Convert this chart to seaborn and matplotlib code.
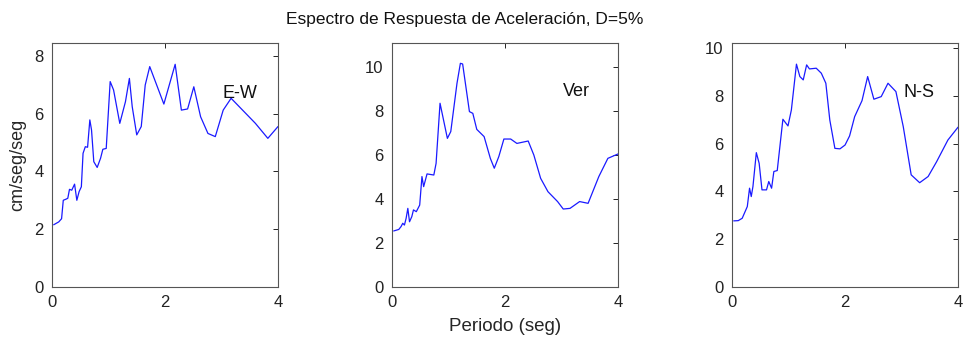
import pandas as pd
import seaborn as sns
import matplotlib.pyplot as plt

# Periodo (seg) y aceleracion espectral (cm/seg/seg) por componente
t_ew = [0.03, 0.12, 0.17, 0.20, 0.25, 0.28, 0.31, 0.35, 0.40, 0.44, 0.48, 0.52, 0.55, 0.59,
        0.63, 0.67, 0.70, 0.74, 0.80, 0.86, 0.90, 0.96, 1.03, 1.09, 1.20, 1.30, 1.37, 1.42,
        1.50, 1.58, 1.65, 1.73, 1.98, 2.18, 2.29, 2.40, 2.51, 2.63, 2.76, 2.89, 3.03, 3.17,
        3.60, 3.82, 4.00]
v_ew = [2.15, 2.25, 2.36, 3.00, 3.04, 3.07, 3.38, 3.35, 3.56, 3.00, 3.30, 3.47, 4.63, 4.86,
        4.84, 5.79, 5.44, 4.34, 4.14, 4.46, 4.77, 4.80, 7.12, 6.83, 5.67, 6.42, 7.23, 6.25,
        5.27, 5.56, 7.00, 7.64, 6.34, 7.72, 6.13, 6.17, 6.94, 5.90, 5.32, 5.21, 6.13, 6.54,
        5.67, 5.15, 5.56]

t_ver = [0.03, 0.12, 0.16, 0.19, 0.22, 0.25, 0.28, 0.31, 0.35, 0.38, 0.43, 0.49, 0.53, 0.56,
         0.62, 0.74, 0.78, 0.85, 0.98, 1.04, 1.15, 1.21, 1.25, 1.37, 1.43, 1.50, 1.63, 1.74,
         1.81, 1.89, 1.98, 2.10, 2.21, 2.41, 2.51, 2.63, 2.76, 2.93, 3.03, 3.15, 3.32, 3.47,
         3.66, 3.82, 4.00]
v_ver = [2.54, 2.61, 2.74, 2.89, 2.81, 3.12, 3.57, 2.96, 3.19, 3.50, 3.42, 3.72, 5.02, 4.56,
         5.14, 5.09, 5.62, 8.36, 6.76, 7.07, 9.27, 10.18, 10.15, 7.98, 7.90, 7.17, 6.84, 5.85,
         5.40, 5.93, 6.73, 6.73, 6.53, 6.64, 6.00, 4.94, 4.33, 3.88, 3.54, 3.57, 3.88, 3.80,
         5.02, 5.85, 6.05]

t_ns = [0.03, 0.11, 0.18, 0.27, 0.31, 0.34, 0.37, 0.43, 0.48, 0.53, 0.61, 0.65, 0.70, 0.74,
        0.80, 0.90, 0.99, 1.05, 1.14, 1.20, 1.26, 1.32, 1.37, 1.49, 1.58, 1.66, 1.73, 1.82,
        1.91, 2.00, 2.08, 2.17, 2.30, 2.40, 2.51, 2.64, 2.76, 2.90, 3.03, 3.17, 3.32, 3.47,
        3.62, 3.82, 4.00]
v_ns = [2.76, 2.77, 2.87, 3.36, 4.13, 3.78, 4.20, 5.62, 5.17, 4.06, 4.06, 4.41, 4.13, 4.83,
        4.87, 7.02, 6.74, 7.41, 9.33, 8.81, 8.67, 9.30, 9.13, 9.16, 8.95, 8.53, 6.99, 5.80,
        5.78, 5.94, 6.32, 7.13, 7.80, 8.81, 7.86, 7.97, 8.53, 8.18, 6.71, 4.69, 4.36, 4.62,
        5.24, 6.15, 6.69]

labels = ['E-W', 'Ver', 'N-S']
ylims = [8.47, 11.12, 10.23]
yticks = [[0, 2, 4, 6, 8], [0, 2, 4, 6, 8, 10], [0, 2, 4, 6, 8, 10]]
label_pos = [(3.33, 6.72), (3.27, 8.89), (3.31, 8.15)]

sns.set_style('white')
plt.rcParams['font.family'] = ['Liberation Sans', 'DejaVu Sans']

fig = plt.figure(figsize=(9.66, 3.41), dpi=100)
lefts = [0.0538, 0.4058, 0.7578]
series = [(t_ew, v_ew), (t_ver, v_ver), (t_ns, v_ns)]

for i, (t, v) in enumerate(series):
    ax = fig.add_axes([lefts[i], 0.1592, 0.234, 0.7156])
    df = pd.DataFrame({'Periodo': t, 'Sa': v})
    sns.lineplot(data=df, x='Periodo', y='Sa', ax=ax, color='#1a1aff', linewidth=0.9)
    ax.set_xlim(0, 4)
    ax.set_ylim(0, ylims[i])
    ax.set_xticks([0, 2, 4])
    ax.set_yticks(yticks[i])
    ax.tick_params(direction='in', top=True, right=True, length=3.5, width=0.7,
                   labelsize=12, colors='#222222', pad=6)
    for s in ax.spines.values():
        s.set_color('#555555')
        s.set_linewidth(0.8)
    ax.set_xlabel('')
    ax.set_ylabel('')
    ax.text(label_pos[i][0], label_pos[i][1], labels[i], ha='center', va='center',
            fontsize=13, color='#111111')
    if i == 0:
        ax.set_ylabel('cm/seg/seg', fontsize=13, labelpad=6)
    if i == 1:
        ax.set_xlabel('Periodo (seg)', fontsize=13.5, labelpad=6)

fig.text(0.481, 0.944, 'Espectro de Respuesta de Aceleración, D=5%', ha='center',
         va='center', fontsize=12.5, color='#111111')

fig.savefig('out.png', dpi=100)
